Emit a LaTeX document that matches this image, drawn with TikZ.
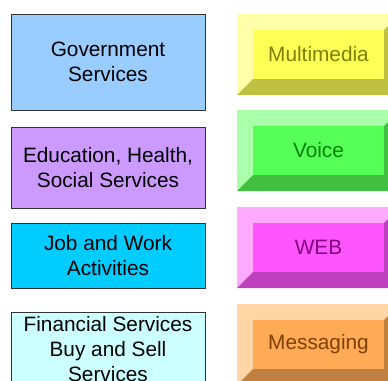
\documentclass[tikz,border=0pt]{standalone}
\usepackage{fontspec}
\setmainfont{Liberation Sans}
\definecolor{govblue}{HTML}{99CCFF}
\definecolor{edupurple}{HTML}{CC99FF}
\definecolor{jobcyan}{HTML}{00CCFF}
\definecolor{finlight}{HTML}{CCFFFF}
\definecolor{boxline}{HTML}{333333}
\definecolor{mmlight}{HTML}{FFFFAA}\definecolor{mmface}{HTML}{FFFF55}\definecolor{mmdark}{HTML}{BFBF40}\definecolor{mmtext}{HTML}{7F7F00}
\definecolor{vclight}{HTML}{AAFFAA}\definecolor{vcface}{HTML}{55FF55}\definecolor{vcdark}{HTML}{40BF40}\definecolor{vctext}{HTML}{007F00}
\definecolor{wblight}{HTML}{FFAAFF}\definecolor{wbface}{HTML}{FF55FF}\definecolor{wbdark}{HTML}{BF40BF}\definecolor{wbtext}{HTML}{7F007F}
\definecolor{mslight}{HTML}{FFD5A5}\definecolor{msface}{HTML}{FFAA55}\definecolor{msdark}{HTML}{BF8040}\definecolor{mstext}{HTML}{7F4000}
\tikzset{
  svc/.style={draw=boxline, line width=0.8pt, align=center, inner sep=0pt,
    minimum width=194pt, font=\fontsize{20.8}{25}\selectfont},
  face/.style={inner sep=0pt, minimum width=131pt, minimum height=49pt,
    font=\fontsize{20.8}{25}\selectfont},
}
\newcommand{\bevbox}[7]{%
  \fill[#4] (237,#2) rectangle (400,#2+81);
  \fill[#6] (237,#2+81) -- (253,#2+65) -- (384,#2+65) -- (384,#2+16) -- (400,#2) -- (400,#2+81) -- cycle;
  \node[face, fill=#5, text=#7] (#1) at (318.5,#2+40.5) {#3};
}
\begin{document}
\begin{tikzpicture}[x=1pt,y=-1pt]
\useasboundingbox (0,0) rectangle (388,380);
\clip (0,0) rectangle (388,380);
\node[svc, fill=govblue, minimum height=96pt] (gov) at (108,62) {Government\\Services};
\node[svc, fill=edupurple, minimum height=81pt] (edu) at (108,167.5) {Education, Health,\\Social Services};
\node[svc, fill=jobcyan, minimum height=65pt] (job) at (108,255.5) {Job and Work\\Activities};
\node[svc, fill=finlight, minimum height=74pt] (fin) at (108,349) {Financial Services\\Buy and Sell\\Services};
\bevbox{mm}{14}{Multimedia}{mmlight}{mmface}{mmdark}{mmtext}
\bevbox{vc}{110}{Voice}{vclight}{vcface}{vcdark}{vctext}
\bevbox{wb}{207}{WEB}{wblight}{wbface}{wbdark}{wbtext}
\bevbox{ms}{304}{Messaging}{mslight}{msface}{msdark}{mstext}
\end{tikzpicture}
\end{document}
